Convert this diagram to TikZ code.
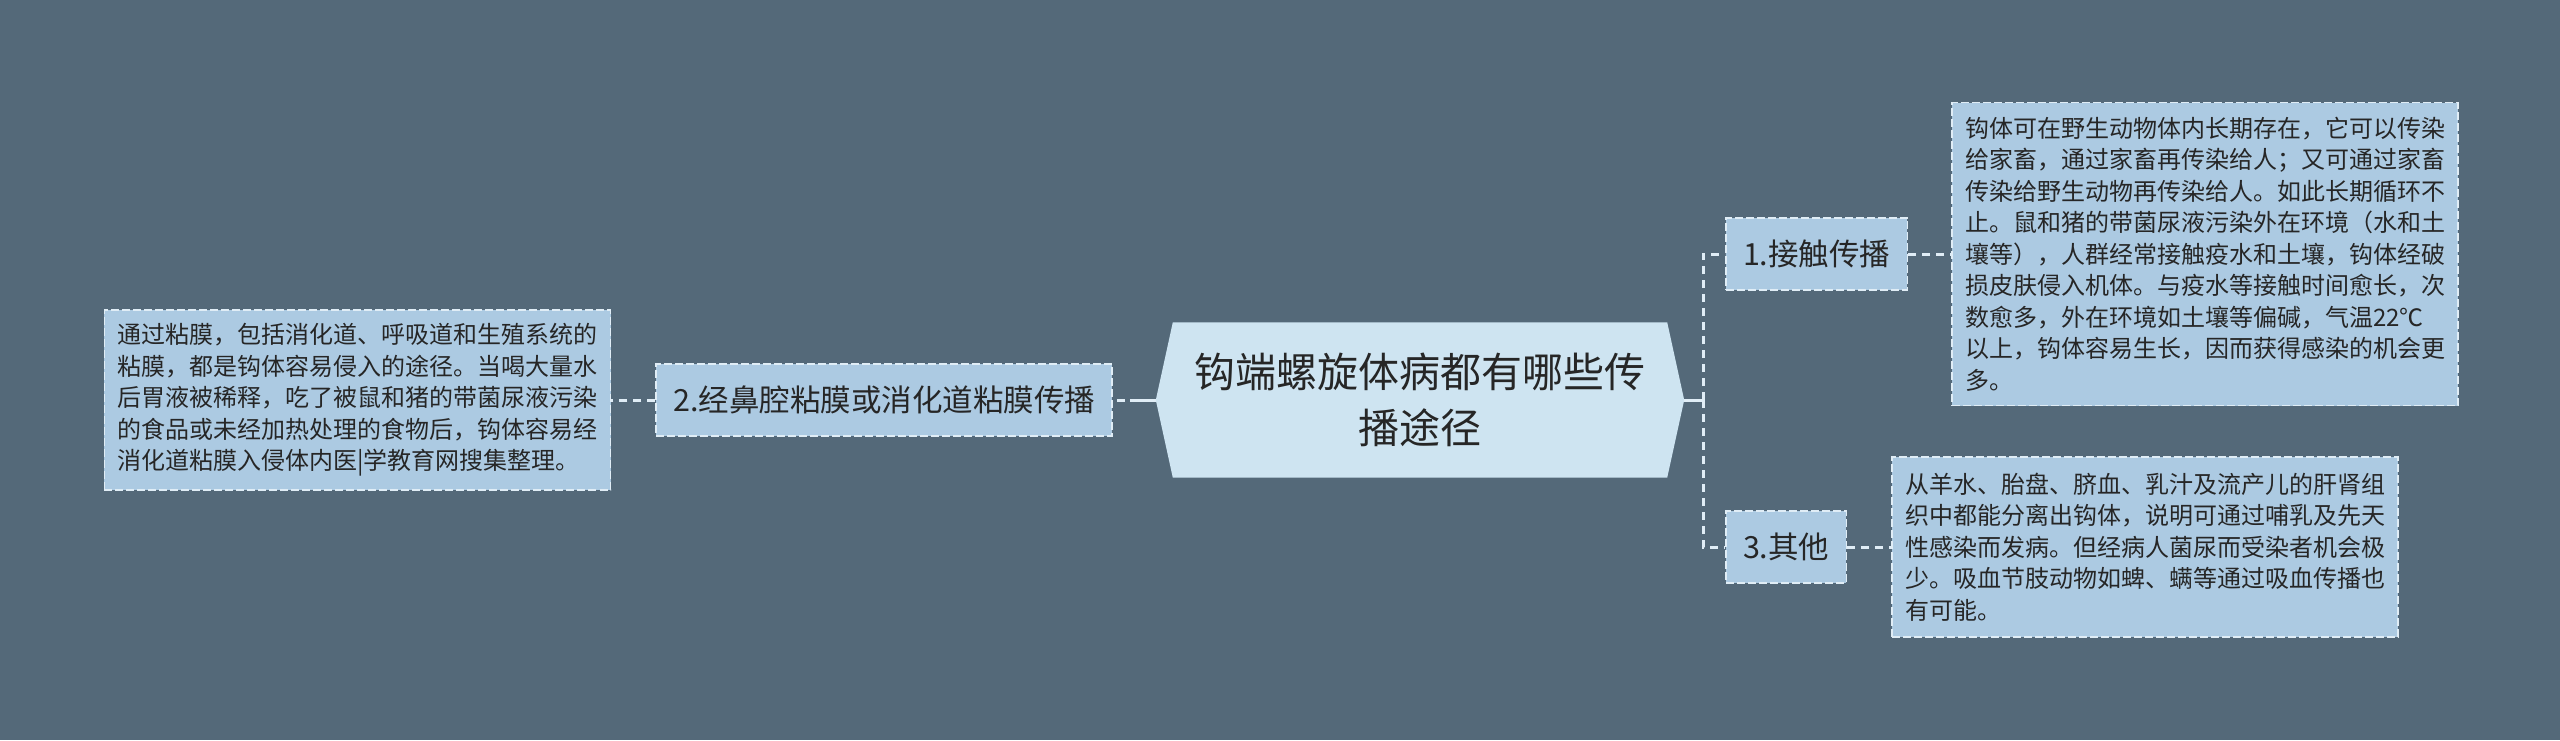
\documentclass[tikz,border=0pt]{standalone}
\usepackage{fontspec}
\setmainfont{Noto Sans CJK SC}
\usepackage{xcolor}
\usetikzlibrary{positioning, calc, backgrounds}

\definecolor{bgslate}{RGB}{84,105,121}
\definecolor{rootfill}{RGB}{206,228,241}
\definecolor{topicfill}{RGB}{172,202,226}
\definecolor{edgeline}{RGB}{224,237,246}
\definecolor{inkdark}{RGB}{38,38,38}

\begin{document}
\begin{tikzpicture}[
    x=1pt, y=-1pt,
    every node/.style={text=inkdark},
    rootbox/.style={rectangle, minimum width=528pt, minimum height=155pt, inner sep=0pt, align=center, font=\fontsize{41}{56}\selectfont},
    topic/.style={rectangle, fill=topicfill, draw=edgeline, line width=1.6pt, dash pattern=on 8pt off 3pt, minimum height=72pt, inner xsep=17pt, font=\fontsize{30.5}{36}\selectfont},
    detail/.style={rectangle, fill=topicfill, draw=edgeline, line width=1.6pt, dash pattern=on 8pt off 3pt, minimum width=506pt, minimum height=180pt, inner sep=0pt, align=left, font=\fontsize{24}{31.5}\selectfont},
    link/.style={draw=edgeline, line width=3pt, dash pattern=on 8pt off 6pt},
    rootlink/.style={draw=edgeline, line width=3pt}
]
\useasboundingbox (0,0) rectangle (2560,740);

% Root
\node (root) [rootbox] at (1420,400) {钩端螺旋体病都有哪些传\\播途径};
\coordinate (fork) at ($(root.east)+(19,0)$);

% Branches
\node (n2) [topic, left=43pt of root] {2.经鼻腔粘膜或消化道粘膜传播};
\node (n1) [topic, right=41pt of root, yshift=146pt] {1.接触传播};
\node (n3) [topic, right=41pt of root, yshift=-147pt] {3.其他};

% Details
\node (d2) [detail, left=44pt of n2] {通过粘膜，包括消化道、呼吸道和生殖系统的\\粘膜，都是钩体容易侵入的途径。当喝大量水\\后胃液被稀释，吃了被鼠和猪的带菌尿液污染\\的食品或未经加热处理的食物后，钩体容易经\\消化道粘膜入侵体内医|学教育网搜集整理。};
\node (d1) [detail, minimum height=303pt, right=43pt of n1] {钩体可在野生动物体内长期存在，它可以传染\\给家畜，通过家畜再传染给人；又可通过家畜\\传染给野生动物再传染给人。如此长期循环不\\止。鼠和猪的带菌尿液污染外在环境（水和土\\壤等），人群经常接触疫水和土壤，钩体经破\\损皮肤侵入机体。与疫水等接触时间愈长，次\\数愈多，外在环境如土壤等偏碱，气温22℃\\以上，钩体容易生长，因而获得感染的机会更\\多。};
\node (d3) [detail, right=44pt of n3] {从羊水、胎盘、脐血、乳汁及流产儿的肝肾组\\织中都能分离出钩体，说明可通过哺乳及先天\\性感染而发病。但经病人菌尿而受染者机会极\\少。吸血节肢动物如蜱、螨等通过吸血传播也\\有可能。};

% Connectors
\draw [rootlink, dash pattern=on 26pt off 5pt on 8pt off 5pt] (root.west) -- (n2);
\draw [rootlink] (root.east) -- (fork);
\draw [link] (fork) |- (n1);
\draw [link] (fork) |- (n3);
\draw [link] (n2) -- (d2);
\draw [link] (n1) -- (d1);
\draw [link] (n3) -- (d3);

\begin{scope}[on background layer]
\fill [bgslate] (0,0) rectangle (2560,740);
\fill [rootfill] (root.west) -- ($(root.north west)+(17,0)$) -- ($(root.north east)+(-17,0)$) -- (root.east) -- ($(root.south east)+(-17,0)$) -- ($(root.south west)+(17,0)$) -- cycle;
\end{scope}

\end{tikzpicture}
\end{document}
